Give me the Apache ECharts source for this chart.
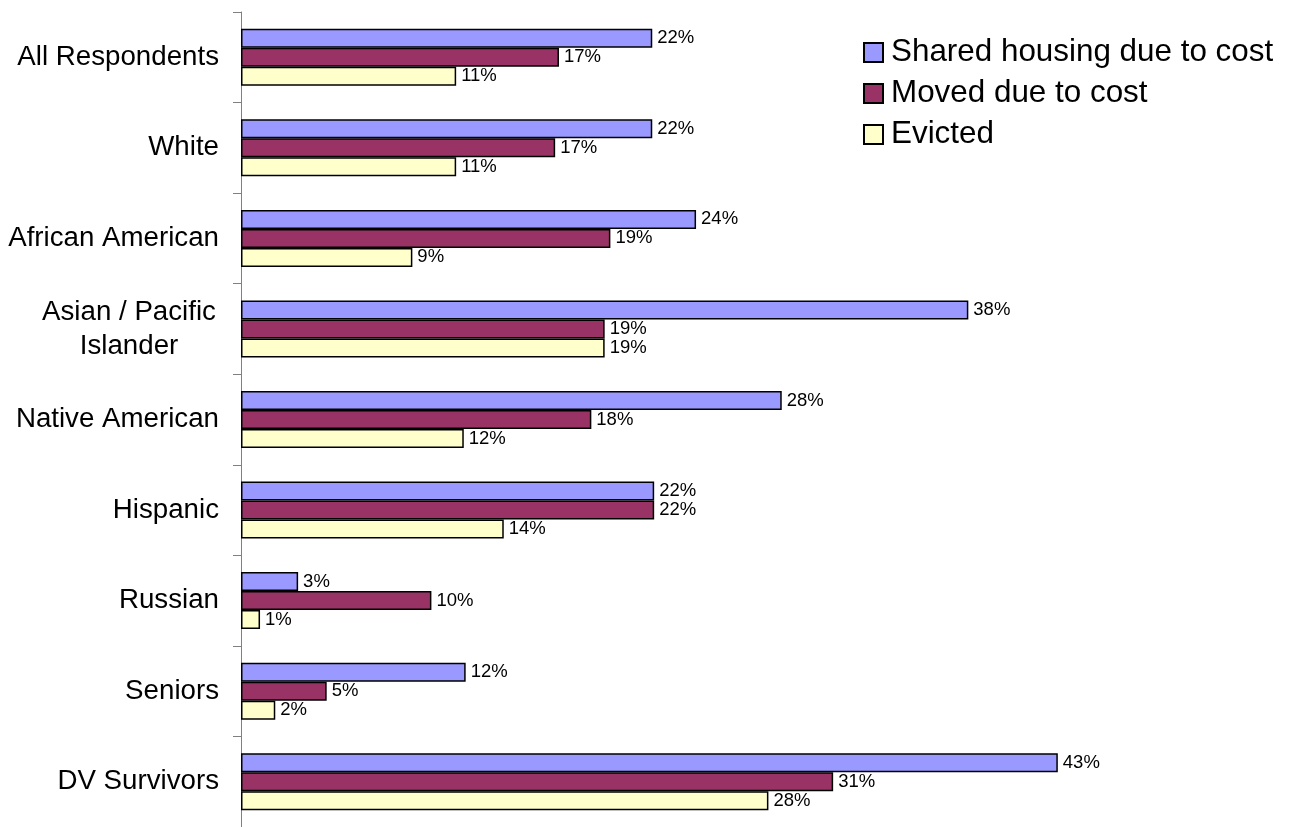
<!DOCTYPE html>
<html>
<head>
<meta charset="utf-8">
<script src="https://cdn.jsdelivr.net/npm/echarts@6/dist/echarts.min.js"></script>
<style>html,body{margin:0;padding:0;background:#fff;}#c{width:1289px;height:827px;}</style>
</head>
<body>
<div id="c"></div>
<script>
const categories = ['All Respondents','White','African American','Asian / Pacific\nIslander','Native American','Hispanic','Russian','Seniors','DV Survivors'];
const seriesNames = ['Shared housing due to cost','Moved due to cost','Evicted'];
const sharedHousing = [21.6, 21.6, 23.9, 38.2, 28.4, 21.7, 3.0, 11.8, 42.9];
const movedDueToCost = [16.7, 16.5, 19.4, 19.1, 18.4, 21.7, 10.0, 4.5, 31.1];
const evicted = [11.3, 11.3, 9.0, 19.1, 11.7, 13.8, 1.0, 1.8, 27.7];
const colors = ['#9999FF','#993366','#FFFFCC'];

const FONT = '"Liberation Sans", Arial, sans-serif';
const chart = echarts.init(document.getElementById('c'), null, {renderer:'canvas'});
function mk(name, data, color){
  return {
    name: name, type: 'bar', data: data, barWidth: 19, barGap: '0%',
    itemStyle: {color: color, borderColor: '#000', borderWidth: 1.5},
    label: {show: true, position: 'right', distance: 5, fontFamily: FONT, fontSize: 18.5, color: '#000',
      formatter: p => Math.round(p.value) + '%'},
    animation: false
  };
}
chart.setOption({
  animation: false,
  backgroundColor: '#fff',
  grid: {left: 241, right: 96, top: 12, bottom: -2, containLabel: false},
  xAxis: {type: 'value', min: 0, max: 50, show: false},
  yAxis: {
    type: 'category', inverse: true, data: categories,
    axisLine: {show: true, lineStyle: {color: '#808080', width: 1}},
    axisTick: {show: true, length: 8, lineStyle: {color: '#808080'}},
    axisLabel: {
      margin: 22, fontFamily: FONT, fontSize: 27.7, color: '#000', align: 'right',
      formatter: v => {
        if (v.indexOf('\n') >= 0) {
          return v.split('\n').map(s => '{c|' + s + '}').join('\n');
        }
        return v;
      },
      rich: {c: {width: 180, align: 'center', fontFamily: FONT, fontSize: 27.7, color: '#000', lineHeight: 34}}
    }
  },
  legend: {
    orient: 'vertical', left: 863, top: 37, padding: 0,
    itemWidth: 19, itemHeight: 19, itemGap: 10,
    icon: 'rect',
    textStyle: {fontFamily: FONT, fontSize: 31.4, color: '#000', lineHeight: 31, padding: [0,0,0,3]},
    data: seriesNames
  },
  series: [
    mk(seriesNames[0], sharedHousing, colors[0]),
    mk(seriesNames[1], movedDueToCost, colors[1]),
    mk(seriesNames[2], evicted, colors[2])
  ]
});
</script>
</body>
</html>
